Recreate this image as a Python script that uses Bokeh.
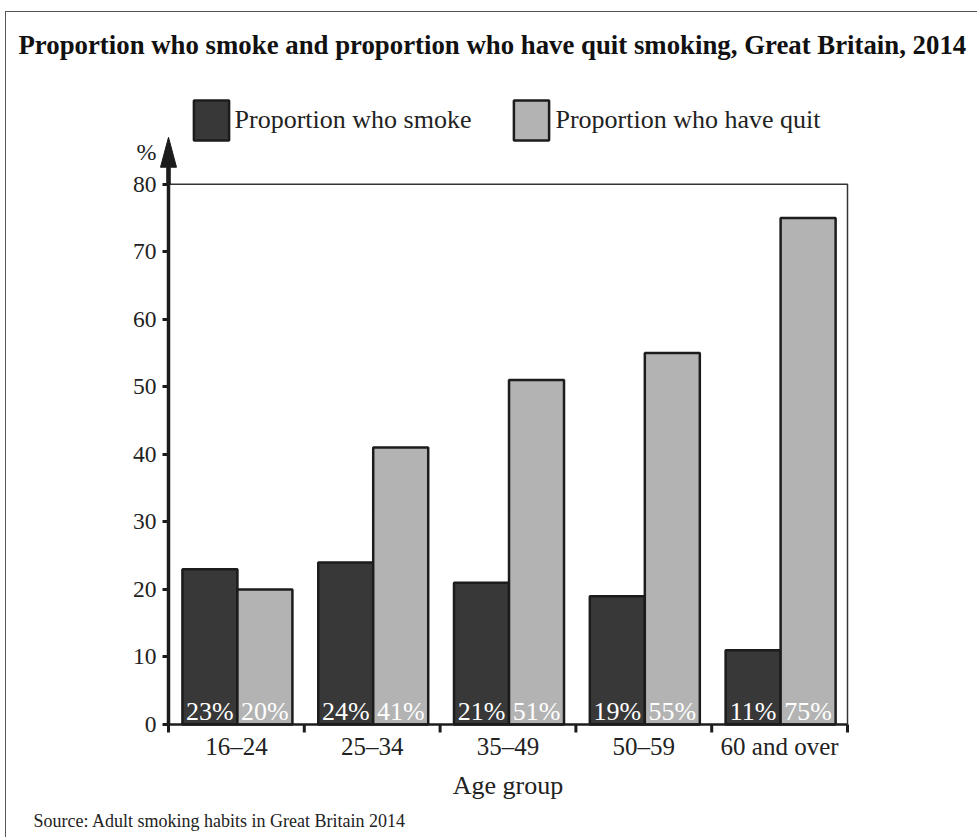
from bokeh.plotting import figure
from bokeh.models import (Range1d, FixedTicker, ColumnDataSource, LabelSet,
                          Legend, LegendItem, Title)
from bokeh.embed import file_html
from bokeh.resources import INLINE
from bokeh.core.properties import value

# Data
age_groups = ["16–24", "25–34", "35–49", "50–59", "60 and over"]
smoke = [23, 24, 21, 19, 11]
quit_ = [20, 41, 51, 55, 75]
y_ticks = [0, 10, 20, 30, 40, 50, 60, 70, 80]
y_max = 80

FONT = "Liberation Serif"
DARK = "#383838"
LIGHT = "#b3b3b3"
EDGE = "#1c1c1c"
TXT = "#222222"

# canvas layout (pixels)
W, H = 972, 826
AX_X, AX_Y = 162, 712          # where the axes cross
PX_X, PX_Y = 135.8, 6.775      # pixels per data unit
FRAME_L, FRAME_R, FRAME_T, FRAME_B = 55, 948, 61, 724

n = len(age_groups)
centers = [i + 0.5 for i in range(n)]
bounds = list(range(n + 1))
src = ColumnDataSource(dict(
    x_smoke=[i + 0.305 for i in range(n)],
    x_quit=[i + 0.71 for i in range(n)],
    smoke=smoke,
    quit=quit_,
    smoke_lbl=[f"{v}%" for v in smoke],
    quit_lbl=[f"{v}%" for v in quit_],
    base=[0.6] * n,
))

sx, sy = 1 / PX_X, 1 / PX_Y
x_range = Range1d((FRAME_L - AX_X) * sx, (FRAME_R - AX_X) * sx)
y_range = Range1d((AX_Y - FRAME_B) * sy, (AX_Y - FRAME_T) * sy)

p = figure(width=W, height=H, x_range=x_range, y_range=y_range,
           output_backend="svg", toolbar_location=None,
           min_border_left=FRAME_L, min_border_right=W - FRAME_R,
           min_border_top=FRAME_T, min_border_bottom=H - FRAME_B)
p.styles = {"margin-left": "5px", "margin-top": "11px",
            "border-left": "1px solid #555555", "border-top": "1px solid #555555"}
p.xgrid.visible = False
p.ygrid.visible = False
p.outline_line_color = None

# title
p.title.text = "Proportion who smoke and proportion who have quit smoking, Great Britain, 2014"
p.title.align = "left"
p.title.offset = 12 - FRAME_L
p.title.standoff = 31
p.title.text_font = FONT
p.title.text_font_size = "26.8px"
p.title.text_font_style = "bold"
p.title.text_color = "#111111"

# thin box closing the plotting area on top and right
p.line(x=[0, n, n], y=[y_max, y_max, 0], line_color="#333333", line_width=1.5)

r_smoke = p.vbar(x="x_smoke", top="smoke", bottom=0, width=0.405, source=src,
                 fill_color=DARK, line_color=EDGE, line_width=2.5)
r_quit = p.vbar(x="x_quit", top="quit", bottom=0, width=0.405, source=src,
                fill_color=LIGHT, line_color=EDGE, line_width=2.5)

# value labels at the foot of each bar
for xcol, lcol in (("x_smoke", "smoke_lbl"), ("x_quit", "quit_lbl")):
    p.add_layout(LabelSet(x=xcol, y="base", text=lcol, source=src,
                          text_align="center", text_baseline="alphabetic",
                          text_color="white", text_font=value(FONT),
                          text_font_size="26px"))

# x axis line at zero, with short ticks at the group boundaries
p.line(x=[0, n], y=[0, 0], line_color=EDGE, line_width=2.5)
p.segment(x0=bounds, y0=[0] * len(bounds), x1=bounds, y1=[-8 * sy] * len(bounds),
          line_color=EDGE, line_width=3)

# x axis carries the group names under the bars
xa = p.xaxis[0]
xa.bounds = (0, n)
xa.ticker = FixedTicker(ticks=centers)
xa.major_label_overrides = {c: g for c, g in zip(centers, age_groups)}
xa.axis_line_color = None
xa.major_tick_line_color = None
xa.minor_tick_line_color = None
xa.major_tick_in = 0
xa.major_tick_out = 0
xa.minor_tick_in = 0
xa.minor_tick_out = 0
xa.major_label_text_font = FONT
xa.major_label_text_font_size = "25px"
xa.major_label_text_color = TXT
xa.major_label_standoff = -4
xa.axis_label = "Age group"
xa.axis_label_text_font = FONT
xa.axis_label_text_font_size = "26px"
xa.axis_label_text_font_style = "normal"
xa.axis_label_text_color = TXT
xa.axis_label_standoff = 8

# y axis drawn at x = 0, leaving room left of it for the arrow and unit sign
ya = p.yaxis[0]
ya.fixed_location = 0
ya.bounds = (0, y_max)
ya.ticker = FixedTicker(ticks=y_ticks)
ya.major_tick_in = 0
ya.major_tick_out = 6
ya.major_tick_line_width = 3
ya.major_tick_line_color = EDGE
ya.minor_tick_line_color = None
ya.axis_line_width = 3.5
ya.axis_line_color = EDGE
ya.major_label_text_font = FONT
ya.major_label_text_font_size = "23.5px"
ya.major_label_text_color = TXT
ya.major_label_standoff = 6

# arrow on top of the y axis
stem, head = 1.75 * sx, 8 * sx
y_base, y_tip = y_max + 17 * sy, y_max + 47 * sy
p.patch(x=[-stem, -stem, -head, 0, head, stem, stem],
        y=[y_max, y_base, y_base, y_tip, y_base, y_base, y_max],
        fill_color=EDGE, line_color=EDGE, line_width=1)
p.text(x=[-22 * sx], y=[y_max + 32 * sy], text=["%"], text_align="center",
       text_baseline="middle", text_font=value(FONT), text_font_size="24px",
       text_color=TXT)

legend = Legend(items=[LegendItem(label="Proportion who smoke", renderers=[r_smoke]),
                       LegendItem(label="Proportion who have quit", renderers=[r_quit])],
                orientation="horizontal", location=(182.6 - FRAME_L, FRAME_B - 133),
                margin=0, padding=0,
                glyph_width=44, glyph_height=50, label_standoff=2, spacing=38,
                label_text_font=FONT, label_text_font_size="26px",
                label_text_color=TXT, label_text_baseline="middle",
                border_line_color=None, background_fill_alpha=0)
p.add_layout(legend, "center")

p.add_layout(Title(text="Source: Adult smoking habits in Great Britain 2014",
                   align="left", offset=27 - FRAME_L, standoff=13, text_font=FONT,
                   text_font_size="18px", text_font_style="normal",
                   text_color=TXT), "below")

open("out.html", "w").write(file_html(p, INLINE))
